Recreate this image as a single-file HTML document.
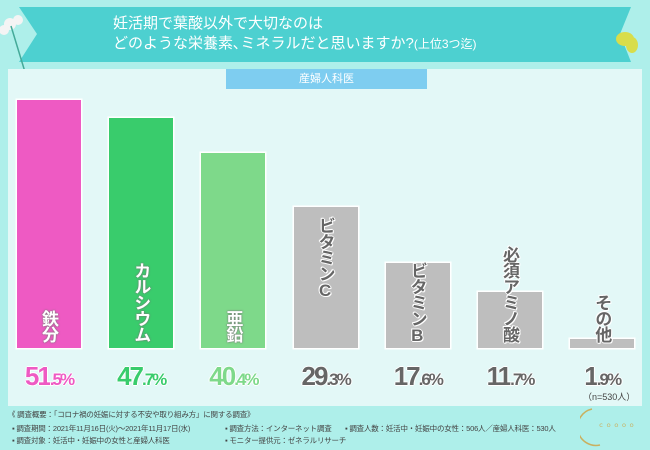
<!DOCTYPE html>
<html><head><meta charset="utf-8"><style>
body{margin:0;width:650px;height:450px;background:#aeefea;position:relative;overflow:hidden;font-family:"Liberation Sans","Noto Sans CJK JP",sans-serif}
.abs{position:absolute}
.vl{position:absolute;writing-mode:vertical-rl;text-orientation:upright;font-weight:bold;font-size:17px;letter-spacing:-1px;line-height:1}
.wht{color:#fff;text-shadow:0 0 2px #777,0 0 1px #777}
.dk{color:#666;text-shadow:1px 0 #fff,-1px 0 #fff,0 1px #fff,0 -1px #fff,1px 1px #fff,-1px -1px #fff}
.pct{position:absolute;top:361px;font-weight:bold;font-size:26px;letter-spacing:-2px;text-align:center;width:92px;text-shadow:1px 0 #fff,-1px 0 #fff,0 1px #fff,0 -1px #fff}
.pct small{font-size:17px}
.note{position:absolute;font-size:7.5px;color:#444;white-space:nowrap;letter-spacing:-0.2px}
</style></head><body>
<svg class="abs" style="left:0;top:0" width="650" height="70">
<polygon points="19,7 631,7 620,34 631,62 19,62 37,34" fill="#4dd0d0"/>
<g><circle cx="10" cy="24" r="6" fill="#f4f4f4"/><circle cx="18" cy="20" r="5" fill="#f4f4f4"/><circle cx="4" cy="30" r="5" fill="#f4f4f4"/><line x1="11" y1="26" x2="25" y2="72" stroke="#4a9" stroke-width="1.5"/></g>
<g><ellipse cx="625" cy="39" rx="9" ry="7" fill="#d8dd4a"/><ellipse cx="632" cy="45" rx="6" ry="8" fill="#d8dd4a"/></g>
</svg>
<div class="abs" style="left:113px;top:14px;color:#fff;font-size:15px;line-height:20px">妊活期で葉酸以外で大切なのは<br>どのような栄養素､ミネラルだと思いますか?<span style="font-size:12px">(上位3つ迄)</span></div>
<div class="abs" style="left:8px;top:69px;width:634px;height:337px;background:#e3f8f7"></div>
<div class="abs" style="left:226px;top:69px;width:201px;height:20px;background:#7ecdf0;color:#fff;font-size:11px;line-height:20px;text-align:center">産婦人科医</div>
<div id="chart" class="abs" style="left:0;top:0;width:650px;height:450px"></div>
<div class="abs" style="left:583px;top:390px;font-size:9px;color:#444">（n=530人）</div>
<div class="note" style="left:8px;top:409px">《 調査概要：「コロナ禍の妊娠に対する不安や取り組み方」に関する調査》</div>
<div class="note" style="left:12px;top:423px">▪ 調査期間：2021年11月16日(火)～2021年11月17日(水)</div>
<div class="note" style="left:225px;top:423px">▪ 調査方法：インターネット調査</div>
<div class="note" style="left:345px;top:423px">▪ 調査人数：妊活中・妊娠中の女性：506人／産婦人科医：530人</div>
<div class="note" style="left:12px;top:435px">▪ 調査対象：妊活中・妊娠中の女性と産婦人科医</div>
<div class="note" style="left:225px;top:435px">▪ モニター提供元：ゼネラルリサーチ</div>
<svg class="abs" style="left:580px;top:405px" width="65" height="45"><path d="M12 4 A18 18 0 0 0 20 40" stroke="#c9b060" fill="none" stroke-width="1.5"/><text x="18" y="22" font-size="6" fill="#c9b060">ｃ ｏ ｏ ｏ ｏ</text></svg>
<script>
const categories=["鉄分","カルシウム","亜鉛","ビタミンC","ビタミンB","必須アミノ酸","その他"];
const values=[51.5,47.7,40.4,29.3,17.6,11.7,1.9];
const valueLabels=["51.5","47.7","40.4","29.3","17.6","11.7","1.9"];
const colors=["#ee5ac3","#39cc6c","#7ed98a","#bebebe","#bebebe","#bebebe","#bebebe"];
const textColors=["#ee5ac3","#39cc6c","#7ed98a","#666","#666","#666","#666"];
const base=348,scale=4.816,x0=17,step=92.2,bw=64;
const yOf=v=>base-v*scale, xOf=i=>x0+i*step;
const c=document.getElementById('chart');
values.forEach((v,i)=>{
  const b=document.createElement('div');
  
  
  const top=yOf(v);
  b.style.cssText=`position:absolute;left:${xOf(i)}px;top:${top}px;width:${bw}px;height:${base-top}px;background:${colors[i]};box-shadow:0 0 0 1.5px #fff`;
  c.appendChild(b);
  const l=document.createElement('div');
  
  
  l.textContent=categories[i];
  const gray=i>=3;
  l.className='vl '+(gray?'dk':'wht');
  const len=categories[i].length*16;
  let t;
  if(!gray) t=base-6-len;
  else if(base-top>len+12) t=top+10;
  else t=base-6-len;
  l.style.left=(xOf(i)+bw/2-9)+'px';
  l.style.top=t+'px';
  c.appendChild(l);
  const p=document.createElement('div');
  
  
  p.className='pct';
  const parts=valueLabels[i].split('.');
  p.innerHTML=parts[0]+'<small>.'+parts[1]+'%</small>';
  p.style.left=(xOf(i)+bw/2-46)+'px';
  p.style.color=textColors[i];
  c.appendChild(p);
});
</script>
</body></html>
